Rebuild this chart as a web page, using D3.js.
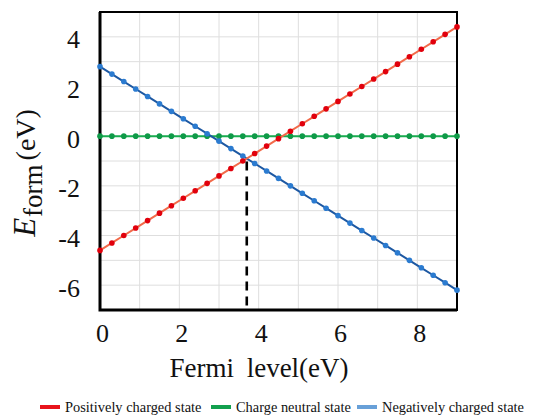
<!DOCTYPE html>
<html>
<head>
<meta charset="utf-8">
<script src="https://cdn.jsdelivr.net/npm/d3@7"></script>
<style>
    body { margin: 0; background: #fff; }
    svg text { font-family: "Liberation Serif", "Times New Roman", serif; fill: #111; }
</style>
</head>
<body>
<div id="chart"></div>
<script>
// data
const fermi = [0, 0.3, 0.6, 0.9, 1.2, 1.5, 1.8, 2.1, 2.4, 2.7, 3.0, 3.3, 3.6, 3.9, 4.2, 4.5,
    4.8, 5.1, 5.4, 5.7, 6.0, 6.3, 6.6, 6.9, 7.2, 7.5, 7.8, 8.1, 8.4, 8.7, 9.0];
const positive = [-4.6, -4.3, -4.0, -3.7, -3.4, -3.1, -2.8, -2.5, -2.2, -1.9, -1.6, -1.3, -1.0, -0.7, -0.4, -0.1,
    0.2, 0.5, 0.8, 1.1, 1.4, 1.7, 2.0, 2.3, 2.6, 2.9, 3.2, 3.5, 3.8, 4.1, 4.4];
const neutral = [0, 0, 0, 0, 0, 0, 0, 0, 0, 0, 0, 0, 0, 0, 0, 0,
    0, 0, 0, 0, 0, 0, 0, 0, 0, 0, 0, 0, 0, 0, 0];
const negative = [2.8, 2.5, 2.2, 1.9, 1.6, 1.3, 1.0, 0.7, 0.4, 0.1, -0.2, -0.5, -0.8, -1.1, -1.4, -1.7,
    -2.0, -2.3, -2.6, -2.9, -3.2, -3.5, -3.8, -4.1, -4.4, -4.7, -5.0, -5.3, -5.6, -5.9, -6.2];
const crossing = [3.7, -0.9];

const xTicks = [0, 2, 4, 6, 8];
const yTicks = [4, 2, 0, -2, -4, -6];
const seriesNames = ['Positively charged state', 'Charge neutral state', 'Negatively charged state'];

function formationPlot({
    bind = null,
    width = 536,
    height = 416,
    margin = {top: 12, right: 79, bottom: 106, left: 100},
} = {}) {

    const svg = bind.append('svg')
        .attr('width', width)
        .attr('height', height);

    const x = d3.scaleLinear().domain([0, 9]).range([margin.left, width - margin.right]);
    const y = d3.scaleLinear().domain([-7, 5]).range([height - margin.bottom, margin.top]);

    // grid every unit
    const grid = svg.append('g').attr('stroke', '#dedede').attr('stroke-width', 1);
    grid.selectAll('line.gx')
        .data(d3.range(1, 9))
        .join('line')
        .attr('x1', d => x(d)).attr('x2', d => x(d))
        .attr('y1', y(-7)).attr('y2', y(5));
    grid.selectAll('line.gy')
        .data(d3.range(-6, 5))
        .join('line')
        .attr('x1', x(0)).attr('x2', x(9))
        .attr('y1', d => y(d)).attr('y2', d => y(d));

    // frame
    svg.append('rect')
        .attr('x', x(0)).attr('y', y(5))
        .attr('width', x(9) - x(0)).attr('height', y(-7) - y(5))
        .attr('fill', 'none').attr('stroke', '#000').attr('stroke-width', 2);
    svg.append('path')
        .attr('d', `M${x(0)},${y(5)}V${y(-7)}H${x(9)}`)
        .attr('fill', 'none').attr('stroke', '#000').attr('stroke-width', 3);

    // axes
    const xAxis = svg.append('g')
        .attr('transform', `translate(2,${y(-7)})`)
        .call(d3.axisBottom(x).tickValues(xTicks).tickSize(0).tickPadding(14).tickFormat(d => d));
    const yAxis = svg.append('g')
        .attr('transform', `translate(${x(0)},0)`)
        .call(d3.axisLeft(y).tickValues(yTicks).tickSize(0).tickPadding(20).tickFormat(d => d));
    [xAxis, yAxis].forEach(a => {
        a.attr('font-family', 'Liberation Serif').attr('font-size', 26);
        a.select('.domain').remove();
        a.selectAll('text').style('fill', '#111');
    });
    yAxis.selectAll('text').attr('dy', '0.42em');

    // series
    const series = [
        {name: seriesNames[1], values: neutral, line: '#19ad50', dot: '#0f9a48'},
        {name: seriesNames[2], values: negative, line: '#1d58a2', dot: '#2b7bd0'},
        {name: seriesNames[0], values: positive, line: '#f26a4a', dot: '#e1000c'},
    ];
    const line = d3.line()
        .x((d, i) => x(fermi[i]))
        .y(d => y(d));

    const plots = svg.append('g').classed('series', true);
    series.forEach(s => {
        const g = plots.append('g');
        g.append('path')
            .attr('d', line(s.values))
            .attr('fill', 'none')
            .attr('stroke', s.line)
            .attr('stroke-width', 2);
        g.selectAll('circle')
            .data(s.values)
            .join('circle')
            .attr('cx', (d, i) => x(fermi[i]))
            .attr('cy', d => y(d))
            .attr('r', 2.8)
            .attr('fill', s.dot);
    });

    // dashed drop line from the crossing
    svg.append('line')
        .attr('x1', x(crossing[0])).attr('x2', x(crossing[0]))
        .attr('y1', y(crossing[1]) + 3).attr('y2', y(-7))
        .attr('stroke', '#000')
        .attr('stroke-width', 2.6)
        .attr('stroke-dasharray', '9,6');

    // axis titles
    svg.append('text')
        .attr('x', 259).attr('y', 377)
        .attr('text-anchor', 'middle')
        .style('font-size', '27px')
        .attr('word-spacing', 6)
        .text('Fermi level(eV)');

    const yTitle = svg.append('text')
        .attr('transform', 'translate(35,173) rotate(-90)')
        .attr('text-anchor', 'middle')
        .style('font-size', '28px');
    yTitle.append('tspan').attr('font-style', 'italic').style('font-size', '31px').text('E');
    yTitle.append('tspan').style('font-size', '27px').attr('dy', 7).attr('dx', 1).text('form');
    yTitle.append('tspan').attr('dy', -7).attr('dx', 4).text('(eV)');

    // legend
    const legendItems = [
        {name: seriesNames[0], color: '#e8141c', x: 40},
        {name: seriesNames[1], color: '#12a04e', x: 211},
        {name: seriesNames[2], color: '#68a0d8', x: 357},
    ];
    const legend = svg.append('g').classed('legend', true)
        .selectAll('g')
        .data(legendItems)
        .join('g')
        .attr('transform', d => `translate(${d.x},407)`);
    legend.append('line')
        .attr('x1', 0).attr('x2', 20)
        .attr('stroke', d => d.color)
        .attr('stroke-width', 4);
    legend.append('text')
        .attr('x', 25).attr('y', 5)
        .style('font-size', '14.4px')
        .text(d => d.name);
}

formationPlot({bind: d3.select('#chart')});
</script>
</body>
</html>
